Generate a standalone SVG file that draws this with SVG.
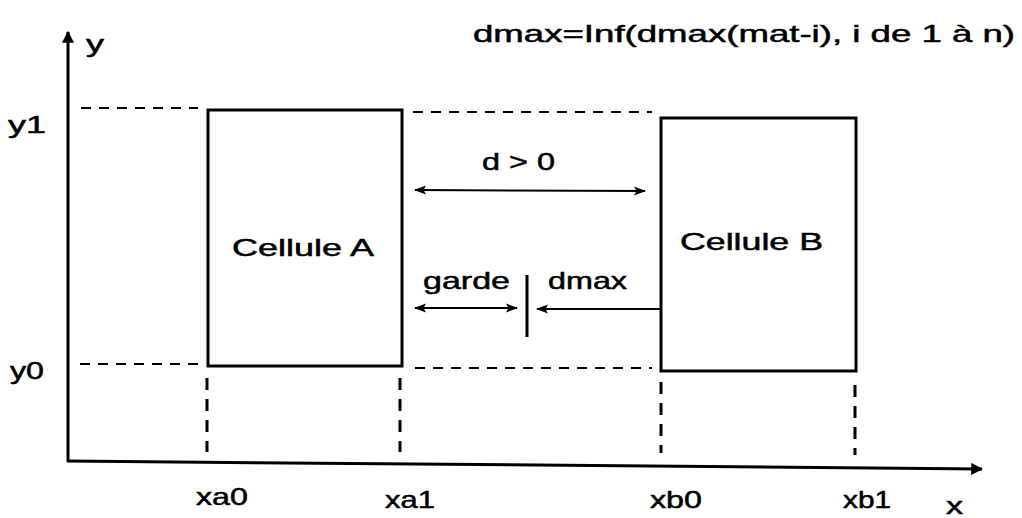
<svg xmlns="http://www.w3.org/2000/svg" width="1022" height="518" viewBox="0 0 1022 518">
<defs>
<style>
text{font-family:"Liberation Sans",Arial,sans-serif;font-size:24px;fill:#000;stroke:#000;stroke-width:0.5}
.box{fill:none;stroke:#000;stroke-width:3}
.dash{fill:none;stroke:#000;stroke-width:2;stroke-dasharray:10 8}
.vdash{fill:none;stroke:#000;stroke-width:3;stroke-dasharray:12 9}
.line{fill:none;stroke:#000;stroke-width:2}
.axis{fill:none;stroke:#000;stroke-width:3}
</style>
<marker id="ah" viewBox="0 0 12 10" refX="11" refY="5" markerWidth="12" markerHeight="10" markerUnits="userSpaceOnUse" orient="auto-start-reverse">
<path d="M0,0.5 L12,5 L0,9.5 L2.5,5 Z" fill="#000"/>
</marker>
<marker id="ax" viewBox="0 0 10 10" refX="9" refY="5" markerWidth="12" markerHeight="12" markerUnits="userSpaceOnUse" orient="auto">
<path d="M0,0 L10,5 L0,10 Z" fill="#000"/>
</marker>
</defs>
<rect width="1022" height="518" fill="#fff"/>
<g id="axes">
<line class="axis" x1="68" y1="462" x2="68" y2="32" marker-end="url(#ax)"/>
<line class="axis" x1="67" y1="461" x2="982" y2="469" marker-end="url(#ax)"/>
<text x="86" y="52" textLength="18" lengthAdjust="spacingAndGlyphs">y</text>
<text x="946" y="514" textLength="17" lengthAdjust="spacingAndGlyphs">x</text>
</g>
<g id="guides">
<line class="dash" x1="81" y1="108" x2="198" y2="108"/>
<line class="dash" x1="413" y1="112" x2="652" y2="112"/>
<line class="dash" x1="80" y1="364" x2="198" y2="364"/>
<line class="dash" x1="415" y1="368" x2="652" y2="368"/>
<line class="vdash" x1="207" y1="378" x2="207" y2="452"/>
<line class="vdash" x1="400" y1="378" x2="400" y2="452"/>
<line class="vdash" x1="661" y1="382" x2="661" y2="453"/>
<line class="vdash" x1="855" y1="385" x2="855" y2="455"/>
</g>
<g id="labels">
<text x="8" y="133" textLength="38" lengthAdjust="spacingAndGlyphs">y1</text>
<text x="10" y="379" textLength="34" lengthAdjust="spacingAndGlyphs">y0</text>
<text x="196" y="505" textLength="52" lengthAdjust="spacingAndGlyphs">xa0</text>
<text x="385" y="508" textLength="50" lengthAdjust="spacingAndGlyphs">xa1</text>
<text x="650" y="508" textLength="52" lengthAdjust="spacingAndGlyphs">xb0</text>
<text x="843" y="508" textLength="48" lengthAdjust="spacingAndGlyphs">xb1</text>
<text x="473" y="42" textLength="542" lengthAdjust="spacingAndGlyphs">dmax=Inf(dmax(mat-i), i de 1 à n)</text>
</g>
<g id="cellA">
<rect class="box" x="208" y="110" width="194" height="256"/>
<text x="232" y="256" textLength="142" lengthAdjust="spacingAndGlyphs">Cellule A</text>
</g>
<g id="cellB">
<rect class="box" x="661" y="118" width="195" height="253"/>
<text x="680" y="250" textLength="143" lengthAdjust="spacingAndGlyphs">Cellule B</text>
</g>
<g id="connectors">
<line class="line" x1="415" y1="190" x2="645" y2="191" marker-start="url(#ah)" marker-end="url(#ah)"/>
<line class="line" x1="415" y1="308" x2="517" y2="308" marker-start="url(#ah)" marker-end="url(#ah)"/>
<line class="axis" x1="527" y1="275" x2="527" y2="337"/>
<line class="line" x1="660" y1="309" x2="537" y2="309" marker-end="url(#ah)"/>
</g>
<g id="dimLabels">
<text x="482" y="170" textLength="73" lengthAdjust="spacingAndGlyphs">d &gt; 0</text>
<text x="423" y="289" textLength="87" lengthAdjust="spacingAndGlyphs">garde</text>
<text x="548" y="289" textLength="79" lengthAdjust="spacingAndGlyphs">dmax</text>
</g>
</svg>
